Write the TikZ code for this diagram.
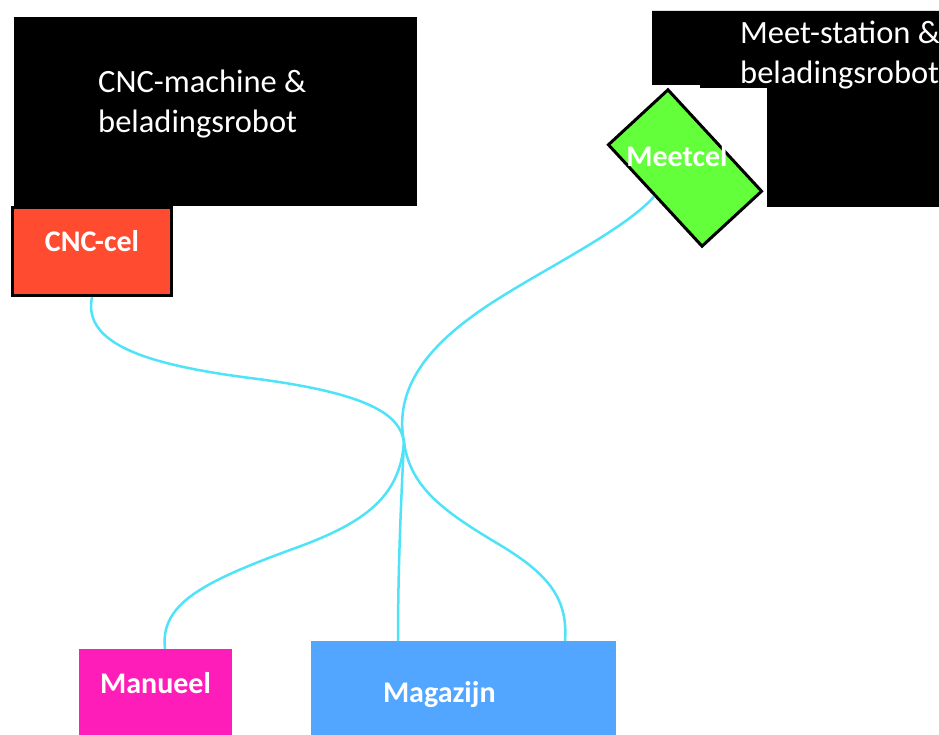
\documentclass[tikz,border=0pt]{standalone}
\usepackage{fontspec}
\setmainfont{Carlito}
\definecolor{cncred}{HTML}{FF4B30}
\definecolor{meetgreen}{HTML}{62FF3A}
\definecolor{manpink}{HTML}{FF1DB9}
\definecolor{magblue}{HTML}{52A6FF}
\definecolor{linkcyan}{HTML}{4FE3F7}
\tikzstyle{machine}=[text=white,font=\fontsize{32.5}{40}\selectfont,align=left,inner sep=0pt,anchor=base west]
\tikzstyle{cel}=[text=white,font=\fontsize{30}{36}\selectfont\bfseries,inner sep=0pt,text height=12pt,text depth=12pt]
\tikzstyle{link}=[draw=linkcyan,line width=2.5pt]

\begin{document}
\begin{tikzpicture}[x=1pt,y=1pt]
  \useasboundingbox (0,0) rectangle (939,-735);

  \fill (14,-17) rectangle (417,-206);
  \node (cncmachine) at (98,-133) [machine] {CNC-machine \&\\beladingsrobot};
  \fill (652,-11) -- (945,-11) -- (945,-207) -- (767,-207) -- (767,-88) -- (700,-88) -- (700,-85) -- (652,-85) -- cycle;
  \node (meetstation) at (740,-84) [machine] {Meet-station \&\\beladingsrobot};

  \node (cnccel) at (92,-251.5) [cel,fill=cncred,draw=black,line width=3pt,minimum width=159pt,minimum height=88pt] {CNC-cel};
  \node (meetcel) at (685,-168) [fill=meetgreen,draw=black,line width=3pt,rotate=-47.3,minimum width=138pt,minimum height=81pt,label={[cel,xshift=-8pt,yshift=1pt]center:Meetcel}] {};
  \node (manueel) at (155.5,-693) [cel,fill=manpink,minimum width=153pt,minimum height=88pt] {Manueel};
  \node (magazijn) at (463.5,-702) [cel,fill=magblue,minimum width=305pt,minimum height=122pt,text width=161pt,align=left] {Magazijn};

  \coordinate (hub) at (404,-442);

  \draw [link] (cnccel.south) .. controls (82,-345) and (150,-365) .. (250,-378) .. controls (370,-393) and (400,-415) .. (hub);
  \draw [link] (meetcel.south) .. controls (620,-235) and (520,-280) .. (470,-318) .. controls (420,-355) and (395,-395) .. (hub);
  \draw [link] (hub) .. controls (400,-500) and (360,-525) .. (290,-550) .. controls (200,-583) and (160,-605) .. ([xshift=9.5pt]manueel.north);
  \draw [link] (hub) .. controls (400,-520) and (398,-580) .. ([xshift=-65.5pt]magazijn.north);
  \draw [link] (hub) .. controls (410,-490) and (450,-515) .. (500,-545) .. controls (550,-575) and (568,-600) .. ([xshift=101.5pt]magazijn.north);
\end{tikzpicture}
\end{document}
